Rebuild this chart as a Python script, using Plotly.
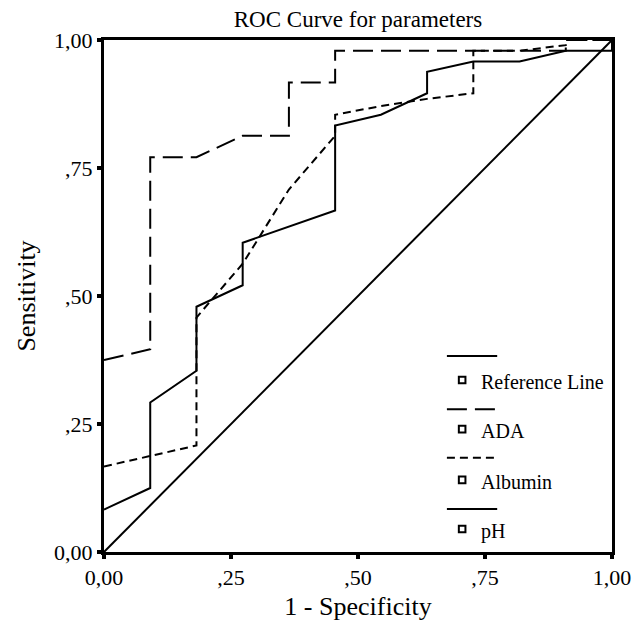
import plotly.graph_objects as go

# ---- data ----
ref_fpr = [0.0, 1.0]
ref_tpr = [0.0, 1.0]

ada_fpr = [0.0, 0.091, 0.091, 0.182, 0.273, 0.364, 0.364, 0.455, 0.455, 0.909, 0.909, 1.0]
ada_tpr = [0.375, 0.396, 0.771, 0.771, 0.813, 0.813, 0.917, 0.917, 0.979, 0.979, 1.0, 1.0]

alb_fpr = [0.0, 0.091, 0.182, 0.182, 0.273, 0.364, 0.455, 0.455, 0.545, 0.636, 0.727, 0.727, 0.818, 0.909, 0.909, 1.0]
alb_tpr = [0.167, 0.188, 0.208, 0.458, 0.563, 0.708, 0.813, 0.854, 0.871, 0.885, 0.896, 0.979, 0.979, 0.99, 1.0, 1.0]

ph_fpr = [0.0, 0.091, 0.091, 0.182, 0.182, 0.273, 0.273, 0.455, 0.455, 0.545, 0.636, 0.636, 0.727, 0.818, 0.909, 1.0, 1.0]
ph_tpr = [0.083, 0.125, 0.292, 0.354, 0.479, 0.521, 0.604, 0.667, 0.833, 0.854, 0.896, 0.938, 0.958, 0.958, 0.979, 0.979, 1.0]

tick_vals = [0.0, 0.25, 0.5, 0.75, 1.0]
tick_text = ["0,00", ",25", ",50", ",75", "1,00"]

legend_names = ["Reference Line", "ADA", "Albumin", "pH"]
legend_dash = ["solid", "20px,8px", "8px,5px", "solid"]

FONT = "Liberation Serif, Times New Roman, serif"

fig = go.Figure()
series = [
    (ref_fpr, ref_tpr, "solid", "Reference Line"),
    (ada_fpr, ada_tpr, "20px,8px", "ADA"),
    (alb_fpr, alb_tpr, "8px,5px", "Albumin"),
    (ph_fpr, ph_tpr, "solid", "pH"),
]
for xs, ys, dash, name in series:
    fig.add_trace(go.Scatter(x=xs, y=ys, mode="lines", name=name,
                             line=dict(color="black", width=2, dash=dash),
                             showlegend=False, hoverinfo="skip"))

# ---- custom legend (SPSS style) ----
shapes = []
annotations = []
line_y = [0.383, 0.279, 0.184, 0.084]
sq_y = [0.336, 0.240, 0.141, 0.045]
for i, name in enumerate(legend_names):
    shapes.append(dict(type="line", xref="x", yref="y", x0=0.675, x1=0.774,
                       y0=line_y[i], y1=line_y[i],
                       line=dict(color="black", width=2, dash=legend_dash[i])))
    shapes.append(dict(type="rect", xref="x", yref="y",
                       x0=0.705 - 0.0065, x1=0.705 + 0.0065,
                       y0=sq_y[i] - 0.0065, y1=sq_y[i] + 0.0065,
                       line=dict(color="black", width=2), fillcolor="white"))
    annotations.append(dict(text=name, xref="x", yref="y", x=0.738, y=sq_y[i] - 0.004,
                            xanchor="left", yanchor="middle", showarrow=False,
                            font=dict(family=FONT, size=20, color="black")))

axis_common = dict(range=[0, 1], tickvals=tick_vals, ticktext=tick_text,
                   ticks="outside", ticklen=4, tickwidth=4, tickcolor="black",
                   showline=True, linewidth=3, linecolor="black", mirror=True,
                   showgrid=False, zeroline=False, automargin=False,
                   tickfont=dict(family=FONT, size=22, color="black"))

# the page body has an 8px default margin, so the figure is 8px smaller
W, H = 636, 615
fig.update_layout(
    width=W, height=H, autosize=False,
    margin=dict(l=96, r=32, t=32, b=71),
    plot_bgcolor="white", paper_bgcolor="white",
    title=dict(text="ROC Curve for parameters", x=350 / W, xref="container",
               xanchor="center", y=1 - 3 / H, yanchor="top",
               font=dict(family=FONT, size=23, color="black")),
    xaxis=dict(**axis_common, title=dict(text="1 - Specificity", standoff=8,
                                         font=dict(family=FONT, size=26, color="black"))),
    yaxis=dict(**axis_common, title=dict(text="Sensitivity", standoff=11,
                                         font=dict(family=FONT, size=26, color="black"))),
    shapes=shapes, annotations=annotations,
    showlegend=False,
)

fig.write_html("out.html")
